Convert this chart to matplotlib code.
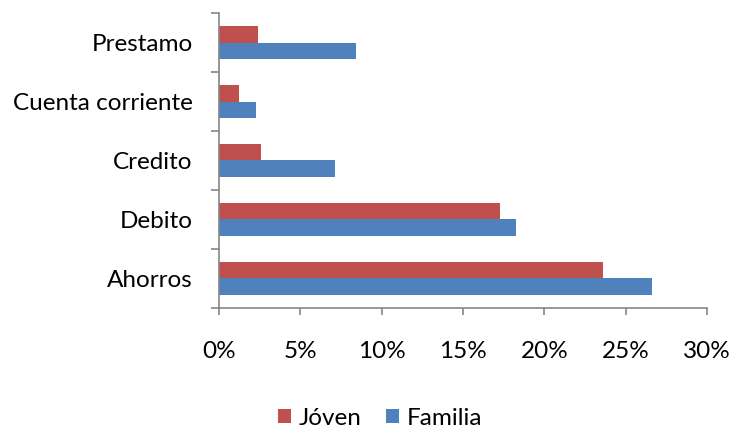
import matplotlib
matplotlib.use("Agg")
import matplotlib.pyplot as plt
import numpy as np
from matplotlib.ticker import FixedLocator, PercentFormatter

categories = ["Ahorros", "Debito", "Credito", "Cuenta corriente", "Prestamo"]
joven = [23.6, 17.3, 2.6, 1.25, 2.4]
familia = [26.6, 18.25, 7.15, 2.25, 8.45]
series_names = ["Jóven", "Familia"]
xticks = [0, 5, 10, 15, 20, 25, 30]

plt.rcParams['font.family'] = ['Lato', 'DejaVu Sans']

fig = plt.figure(figsize=(7.33, 4.28), dpi=100)
ax = fig.add_axes([0.2988, 0.2804, 0.9645 - 0.2988, 0.9696 - 0.2804])

y = np.arange(len(categories))
h = 0.283
ax.barh(y + h / 2, joven, height=h, color="#C0504D", label=series_names[0])
ax.barh(y - h / 2, familia, height=h, color="#4F81BD", label=series_names[1])

ax.set_xlim(0, 30)
ax.set_ylim(-0.5, len(categories) - 0.5)
ax.set_xticks(xticks)
ax.xaxis.set_major_formatter(PercentFormatter(decimals=0))
ax.set_yticks(y)
ax.set_yticklabels(categories)
ax.yaxis.set_minor_locator(FixedLocator(np.arange(-0.5, len(categories), 1)))

gray = "#868686"
for s in ["top", "right"]:
    ax.spines[s].set_visible(False)
for s in ["left", "bottom"]:
    ax.spines[s].set_color(gray)
    ax.spines[s].set_linewidth(1.2)

fs = 17.5
ax.tick_params(axis="y", which="major", length=0, pad=19, labelsize=fs, colors="black")
ax.tick_params(axis="y", which="minor", length=6, width=1.2, color=gray, direction="out")
ax.tick_params(axis="x", which="major", length=5, width=1.2, color=gray, pad=19, labelsize=fs, labelcolor="black")

handles, labels = ax.get_legend_handles_labels()
fig.legend(handles, labels, loc="center", bbox_to_anchor=(0.5185, 0.023), ncol=2,
           frameon=False, fontsize=fs, handlelength=0.55, handleheight=0.55,
           handletextpad=0.3, columnspacing=1.0)

fig.savefig("out.png", dpi=100)
